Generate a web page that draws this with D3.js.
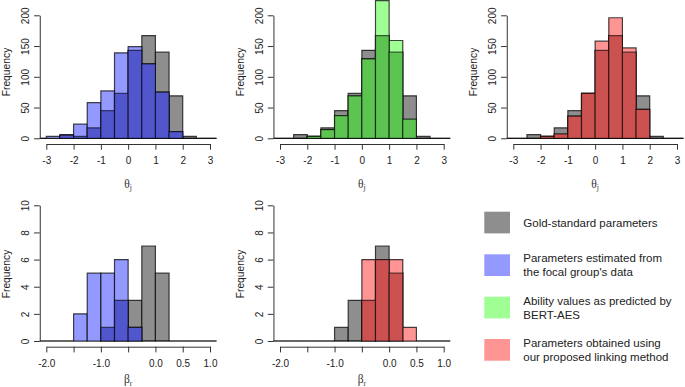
<!DOCTYPE html>
<html><head><meta charset="utf-8">
<script src="https://cdn.jsdelivr.net/npm/d3@7"></script>
<style>
html,body{margin:0;padding:0;background:#fff;}
svg{display:block;font-family:"Liberation Sans",Arial,sans-serif;}
</style></head>
<body><svg id="chart" width="685" height="387"></svg>
<script>
// ---------- data ----------
const thetaBreaks = [-3.5,-3,-2.5,-2,-1.5,-1,-0.5,0,0.5,1,1.5,2,2.5,3,3.5];
const goldTheta   = [0,0,6,3,17,45,73,143,167,140,69,3,0,0];
const focalTheta  = [0,3,5,23,58,77,139,149,121,75,11,0,0,0];
const bertTheta   = [0,0,0,3,14,37,69,129,224,159,31,0,0,0];
const linkedTheta = [0,0,0,3,7,36,73,158,196,147,47,0,0,0];

const betaBreaks  = [-2.25,-2,-1.75,-1.5,-1.25,-1,-0.75,-0.5,-0.25,0,0.25,0.5,0.75,1,1.25];
const goldBeta    = [0,0,0,0,0,1,3,3,7,5,0,0,0,0];
const focalBeta   = [0,0,0,2,5,5,6,1,0,0,0,0,0,0];
const linkedBeta  = [0,0,0,0,0,0,0,6,6,6,1,0,0,0];

const thetaTicks = [-3,-2,-1,0,1,2,3];
const thetaTickLabels = ["-3","-2","-1","0","1","2","3"];
const thetaYTicks = [0,50,100,150,200];
const betaTicks = [-2,-1.5,-1,-0.5,0,0.5,1];
const betaTickLabels = ["-2.0","","-1.0","","0.0","0.5","1.0"];
const betaYTicks = [0,2,4,6,8,10];

const legendLabels = [
  ["Gold-standard parameters"],
  ["Parameters estimated from","the focal group's data"],
  ["Ability values as predicted by","BERT-AES"],
  ["Parameters obtained using","our proposed linking method"]
];
const lightColors = ["#8e8e8e","#9499ff","#a0ff94","#ff9494"];
const darkColors  = [null,"#5156cc","#5dc452","#cc5252"];

// ---------- drawing ----------
const svg = d3.select("#chart");
const panelLeft = [46.3, 280, 513.3];
const panelWidth = 163.7;

function panel(opt){
  const g = svg.append("g");
  const x = d3.scaleLinear().domain(opt.xDomain).range([panelLeft[opt.col], panelLeft[opt.col]+panelWidth]);
  const y = d3.scaleLinear().domain(opt.yDomain).range(opt.yRange);
  const ext = (opt.xDomain[1]-opt.xDomain[0])*0.04;
  const regL = x(opt.xDomain[0]-ext), regR = x(opt.xDomain[1]+ext);
  const clipId = "clip"+opt.id;
  svg.append("clipPath").attr("id",clipId).append("rect")
    .attr("x",regL).attr("y",-20).attr("width",regR-regL).attr("height",opt.axisY+20);
  const bars = g.append("g").attr("clip-path",`url(#${clipId})`);
  const br = opt.breaks;
  const path = (i,v)=>`M${x(br[i])},${y(0)}V${y(v)}H${x(br[i+1])}V${y(0)}Z`;
  const idx = d3.range(br.length-1);
  // gold
  bars.append("g").selectAll("path").data(idx).join("path")
    .attr("d",i=>path(i,opt.gold[i])).attr("fill",lightColors[0])
    .attr("stroke","#000").attr("stroke-opacity",0.72).attr("stroke-width",1.2);
  // series
  bars.append("g").selectAll("path").data(idx).join("path")
    .attr("d",i=>path(i,opt.series[i])).attr("fill",lightColors[opt.s])
    .attr("stroke","#000").attr("stroke-opacity",0.72).attr("stroke-width",1.2);
  // overlap
  bars.append("g").selectAll("path").data(idx.filter(i=>Math.min(opt.gold[i],opt.series[i])>0)).join("path")
    .attr("d",i=>path(i,Math.min(opt.gold[i],opt.series[i]))).attr("fill",darkColors[opt.s])
    .attr("stroke","#000").attr("stroke-opacity",0.6).attr("stroke-width",1.2);

  // x axis
  const xa = g.append("g").attr("transform",`translate(0,${opt.axisY})`)
    .call(d3.axisBottom(x).tickValues(opt.xTicks).tickFormat((d,i)=>opt.xLabels[i]).tickSize(5.7).tickSizeOuter(0).tickPadding(7.5));
  // y axis
  const ya = g.append("g").attr("transform",`translate(${regL},0)`)
    .call(d3.axisLeft(y).tickValues(opt.yTicks).tickSize(5.7).tickSizeOuter(0));
  ya.selectAll("text").attr("transform","rotate(-90)").attr("x",0).attr("y",-10.5).attr("dy",0).attr("text-anchor","middle");
  [xa,ya].forEach(a=>{
    a.selectAll("path,line").attr("stroke","#333").attr("stroke-width",1);
    a.selectAll("text").attr("fill","#222").style("font-size","10px").style("font-family","'Liberation Sans',Arial,sans-serif");
  });
  // y title
  g.append("text").attr("transform",`translate(${regL-29.5},${opt.yTitleY}) rotate(-90)`)
    .attr("text-anchor","middle").attr("fill","#222").style("font-size","10.3px").text("Frequency");
  // x title
  const cx = (x(opt.xDomain[0])+x(opt.xDomain[1]))/2;
  const t = g.append("text").attr("x",cx).attr("y",opt.xTitleY).attr("text-anchor","middle")
    .attr("fill","#333").style("font-family","'Liberation Serif','DejaVu Serif',serif").style("font-size","11.5px");
  t.append("tspan").text(opt.sym);
  t.append("tspan").attr("dy",2.5).style("font-size","7.5px").text(opt.sub);
}

panel({id:1,col:0,xDomain:[-3,3],yDomain:[0,200],yRange:[138.3,15.3],axisY:144,breaks:thetaBreaks,gold:goldTheta,series:focalTheta,s:1,xTicks:thetaTicks,xLabels:thetaTickLabels,yTicks:thetaYTicks,yTitleY:72,xTitleY:187.5,sym:"θ",sub:"j"});
panel({id:2,col:1,xDomain:[-3,3],yDomain:[0,200],yRange:[138.3,15.3],axisY:144,breaks:thetaBreaks,gold:goldTheta,series:bertTheta,s:2,xTicks:thetaTicks,xLabels:thetaTickLabels,yTicks:thetaYTicks,yTitleY:72,xTitleY:187.5,sym:"θ",sub:"j"});
panel({id:3,col:2,xDomain:[-3,3],yDomain:[0,200],yRange:[138.3,15.3],axisY:144,breaks:thetaBreaks,gold:goldTheta,series:linkedTheta,s:3,xTicks:thetaTicks,xLabels:thetaTickLabels,yTicks:thetaYTicks,yTitleY:72,xTitleY:187.5,sym:"θ",sub:"j"});
panel({id:4,col:0,xDomain:[-2,1],yDomain:[0,10],yRange:[341,205.3],axisY:346.7,breaks:betaBreaks,gold:goldBeta,series:focalBeta,s:1,xTicks:betaTicks,xLabels:betaTickLabels,yTicks:betaYTicks,yTitleY:274,xTitleY:383,sym:"β",sub:"r"});
panel({id:5,col:1,xDomain:[-2,1],yDomain:[0,10],yRange:[341,205.3],axisY:346.7,breaks:betaBreaks,gold:goldBeta,series:linkedBeta,s:3,xTicks:betaTicks,xLabels:betaTickLabels,yTicks:betaYTicks,yTitleY:274,xTitleY:383,sym:"β",sub:"r"});

// legend
const legTop = [211.7,254.3,296.7,339];
const lg = svg.append("g");
legendLabels.forEach((lines,i)=>{
  lg.append("rect").attr("x",484.3).attr("y",legTop[i]).attr("width",25.7).attr("height",21.7).attr("fill",lightColors[i]);
  const cy = legTop[i]+10.85;
  const n = lines.length;
  lines.forEach((s,j)=>{
    lg.append("text").attr("x",523.3).attr("y",cy+(j-(n-1)/2)*14+4)
      .attr("fill","#222").style("font-size","11.5px").text(s);
  });
});
</script></body></html>
